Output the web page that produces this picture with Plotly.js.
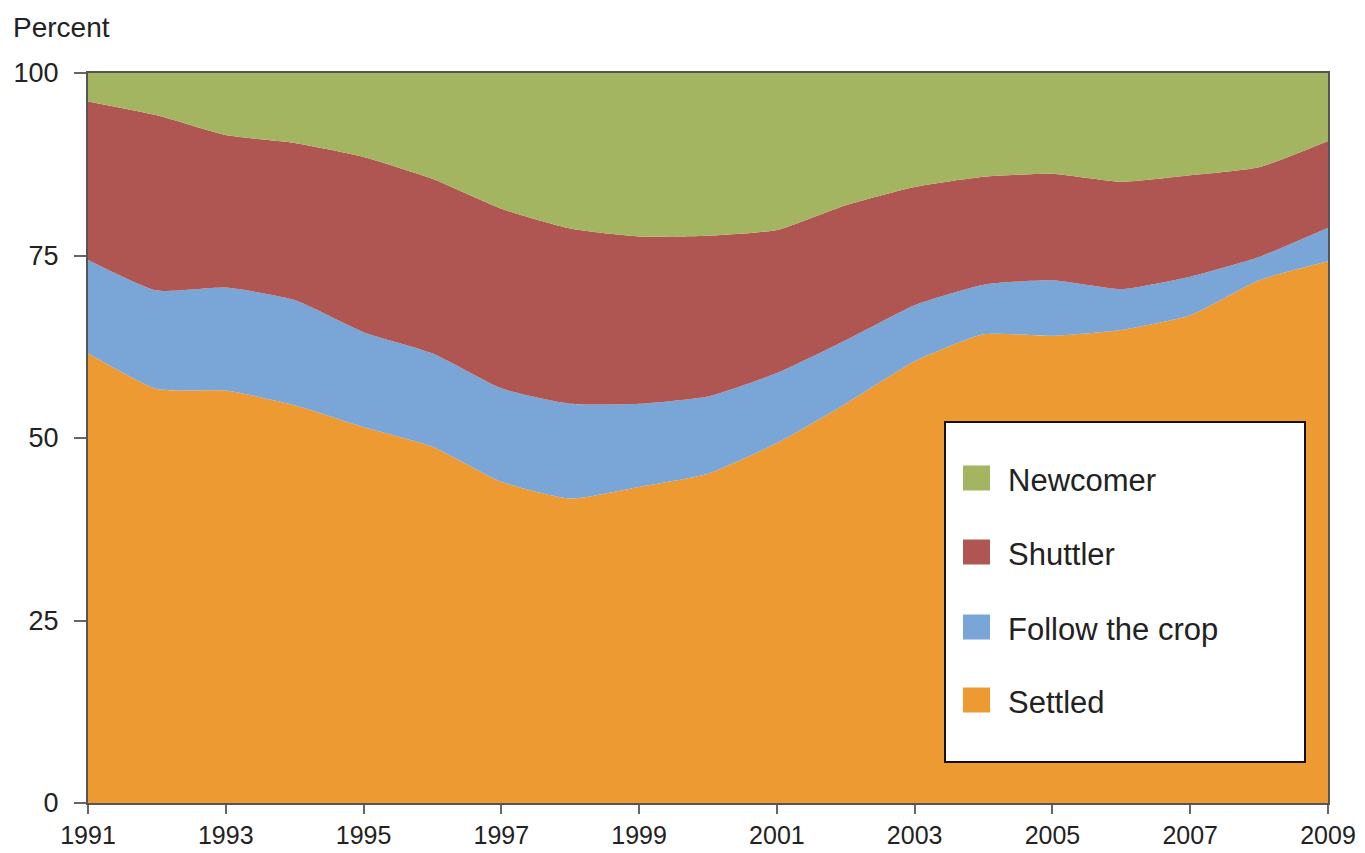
<!DOCTYPE html>
<html>
<head>
<meta charset="utf-8">
<script src="https://cdn.plot.ly/plotly-3.0.1.min.js"></script>
<style>html,body{margin:0;padding:0;background:#fff;}#chart{width:1365px;height:853px;}</style>
</head>
<body>
<div id="chart"></div>
<script>
const years = [1991,1992,1993,1994,1995,1996,1997,1998,1999,2000,2001,2002,2003,2004,2005,2006,2007,2008,2009];
const settled   = [61.6,56.7,56.5,54.5,51.5,48.8,44.0,41.7,43.3,45.1,49.3,54.7,60.5,64.2,64.0,64.8,66.8,71.6,74.2];
const followCrop= [12.8,13.5,14.1,14.4,13.0,12.8,12.8,13.0,11.4,10.6,9.6,8.7,7.7,6.8,7.6,5.6,5.3,3.2,4.6];
const shuttler  = [21.7,24.0,20.9,21.5,24.0,23.9,24.6,24.0,22.9,22.0,19.6,18.5,16.2,14.8,14.6,14.7,13.9,12.3,11.9];
const newcomer  = [3.9,5.8,8.5,9.6,11.5,14.5,18.6,21.3,22.4,22.3,21.5,18.1,15.6,14.2,13.8,14.9,14.0,12.9,9.3];
const seriesNames = ["Settled","Follow the crop","Shuttler","Newcomer"];
const xTickLabels = ["1991","1993","1995","1997","1999","2001","2003","2005","2007","2009"];
const yTickLabels = ["0","25","50","75","100"];

const colors = ["#EE9A33","#7AA5D7","#B05652","#A3B561"];
const seriesValues = [settled, followCrop, shuttler, newcomer];

const traces = seriesValues.map((vals, i) => ({
  x: years, y: vals, name: seriesNames[i], type: 'scatter', mode: 'lines',
  stackgroup: 'one', fillcolor: colors[i],
  line: {width: 0, shape: 'spline', smoothing: 0.5, color: colors[i]},
  showlegend: false, hoverinfo: 'x+y+name'
}));

// plot area in pixels
const L = 88, R = 1328, T = 73, B = 803;
const px = x => (x - L) / (R - L);
const py = y => (B - y) / (B - T);

const FONT = 'Liberation Sans, Arial, Helvetica, sans-serif';
const shapes = [{
  type: 'rect', xref: 'paper', yref: 'paper', layer: 'above',
  x0: px(945), x1: px(1305), y0: py(762), y1: py(422),
  fillcolor: '#ffffff', line: {color: '#111', width: 2}
}];
const annotations = [{
  text: 'Percent', xref: 'paper', yref: 'paper', x: px(11), y: py(28),
  xanchor: 'left', yanchor: 'middle', showarrow: false,
  font: {family: FONT, size: 28, color: '#222'}
}];
const legendCenters = [700, 627, 552, 478];
seriesNames.forEach((n, i) => {
  const cy = legendCenters[i];
  shapes.push({type: 'rect', xref: 'paper', yref: 'paper', layer: 'above',
    x0: px(963), x1: px(990), y0: py(cy + 12.5), y1: py(cy - 12.5),
    fillcolor: colors[i], line: {width: 0}});
  annotations.push({text: n, xref: 'paper', yref: 'paper', x: px(1006), y: py(cy + 2),
    xanchor: 'left', yanchor: 'middle', showarrow: false,
    font: {family: FONT, size: 31, color: '#222'}});
});

const layout = {
  width: 1365, height: 853,
  margin: {l: L, r: 1365 - R, t: T, b: 853 - B, pad: 0},
  paper_bgcolor: '#fff', plot_bgcolor: '#fff',
  showlegend: false,
  xaxis: {
    range: [1991, 2009], tickvals: xTickLabels.map(Number), ticktext: xTickLabels,
    showgrid: false, zeroline: false, showline: true, linecolor: '#555', linewidth: 2,
    mirror: true, ticks: 'outside', ticklen: 9, tickwidth: 2, tickcolor: '#666',
    tickfont: {family: FONT, size: 25, color: '#222'}, ticklabelstandoff: 0
  },
  yaxis: {
    range: [0, 100], tickvals: yTickLabels.map(Number), ticktext: yTickLabels,
    showgrid: false, zeroline: false, showline: true, linecolor: '#555', linewidth: 2,
    mirror: true, ticks: 'outside', ticklen: 12, tickwidth: 2, tickcolor: '#666',
    tickfont: {family: FONT, size: 27, color: '#222'}, ticklabelstandoff: 10
  },
  shapes: shapes,
  annotations: annotations
};

Plotly.newPlot('chart', traces, layout, {displayModeBar: false, staticPlot: true});
</script>
</body>
</html>
